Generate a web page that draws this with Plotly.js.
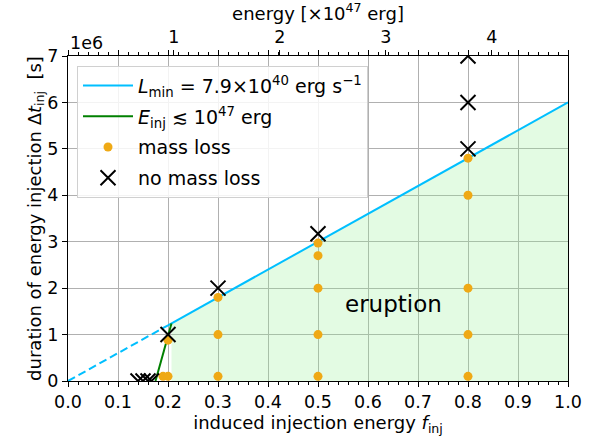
<!DOCTYPE html>
<html><head><meta charset="utf-8">
<script src="https://cdn.plot.ly/plotly-3.0.1.min.js"></script>
<style>html,body{margin:0;padding:0;background:#fff}#plot{width:599px;height:440px}</style>
</head><body><div id="plot"></div>
<script>
// Values (durations in units of 1e6 s)
const lminDashedX = [0.0, 0.2];
const lminDashedY = [0.0, 1.2];
const lminSolidX = [0.2, 1.0];
const lminSolidY = [1.2, 6.0];
const einjX = [0.175, 0.207];
const einjY = [0.0, 1.24];
const eruptionX = [0.207, 0.207, 1.0, 1.0];
const eruptionY = [0.0, 1.24, 6.0, 0.0];
const massLossX = [0.19, 0.2, 0.2, 0.3, 0.3, 0.3, 0.5, 0.5, 0.5, 0.5, 0.5, 0.8, 0.8, 0.8, 0.8, 0.8];
const massLossY = [0.1, 0.1, 0.88, 0.1, 1.0, 1.8, 0.1, 1.0, 2.0, 2.7, 2.97, 0.1, 1.0, 2.0, 4.0, 4.8];
const noMassLossX = [0.14, 0.15, 0.16, 0.167, 0.2, 0.3, 0.5, 0.8, 0.8, 0.8];
const noMassLossY = [0.0, 0.0, 0.0, 0.0, 1.0, 2.0, 3.17, 5.0, 6.0, 7.0];
const xTicks = [0, 0.1, 0.2, 0.3, 0.4, 0.5, 0.6, 0.7, 0.8, 0.9, 1.0];
const yTicks = [0, 1, 2, 3, 4, 5, 6, 7];
const energyTicks = [1, 2, 3, 4];
const energyMax = 4.72;

const F = 'DejaVu Sans, sans-serif';
const cyan = '#00bfff';
const traces = [
  {x: eruptionX, y: eruptionY, type: 'scatter', mode: 'lines', fill: 'toself',
   fillcolor: 'rgba(144,238,144,0.25)', line: {width: 0}, showlegend: false, hoverinfo: 'skip'},
  {x: lminDashedX, y: lminDashedY, type: 'scatter', mode: 'lines',
   line: {color: cyan, width: 2, dash: '8px,4px'}, showlegend: false},
  {x: lminSolidX, y: lminSolidY, type: 'scatter', mode: 'lines', legendgroup: 'a',
   line: {color: cyan, width: 2}, name: '<i>L</i><sub>min</sub> = 7.9×10<sup>40</sup> erg s<sup>−1</sup>'},
  {x: einjX, y: einjY, type: 'scatter', mode: 'lines', legendgroup: 'b',
   line: {color: 'green', width: 2}, name: '<i>E</i><sub>inj</sub> ≲ 10<sup>47</sup> erg'},
  {x: massLossX, y: massLossY, type: 'scatter', mode: 'markers', legendgroup: 'c',
   marker: {color: '#efa915', size: 9}, name: 'mass loss'},
  {x: noMassLossX, y: noMassLossY, type: 'scatter', mode: 'markers', legendgroup: 'd',
   marker: {symbol: 'x-thin-open', size: 15, line: {color: 'black', width: 2}, color: 'black'},
   name: 'no mass loss'},
  {x: [0], y: [0], xaxis: 'x2', type: 'scatter', mode: 'markers', marker: {opacity: 0}, showlegend: false, hoverinfo: 'skip'}
];

const layout = {
  width: 599, height: 440,
  margin: {l: 68, r: 31, t: 56, b: 59},
  paper_bgcolor: 'white', plot_bgcolor: 'white',
  font: {family: F, size: 17.5, color: 'black'},
  showlegend: true,
  legend: {x: 0.018, y: 0.97, xanchor: 'left', yanchor: 'top', bgcolor: 'rgba(255,255,255,0.85)',
    bordercolor: '#d0d0d0', borderwidth: 1, font: {family: F, size: 19}, tracegroupgap: 3,
    itemwidth: 50},
  xaxis: {range: [0, 1], tickvals: xTicks, ticktext: xTicks.map(v => v.toFixed(1)),
    showgrid: true, gridcolor: '#b0b0b0', gridwidth: 1,
    ticks: 'outside', ticklen: 5, tickcolor: 'black', showline: true, linecolor: 'black', linewidth: 1,
    mirror: 'ticks', zeroline: false,
    minor: {dtick: 0.02, ticks: 'outside', ticklen: 3, tickcolor: 'black', showgrid: false},
    title: {text: 'induced injection energy <i>f</i><sub>inj</sub>', font: {size: 18}, standoff: 4},
    tickfont: {size: 17.5}},
  xaxis2: {overlaying: 'x', side: 'top', range: [0, energyMax], tickvals: energyTicks,
    ticks: 'outside', ticklen: 5, tickcolor: 'black', showgrid: false, zeroline: false,
    title: {text: 'energy [×10<sup>47</sup> erg]', font: {size: 18}, standoff: 2}, tickfont: {size: 17.5}},
  yaxis: {range: [0, 7], tickvals: yTicks, showgrid: true, gridcolor: '#b0b0b0', gridwidth: 1,
    ticks: 'outside', ticklen: 5, tickcolor: 'black', showline: true, linecolor: 'black', linewidth: 1,
    mirror: true, zeroline: false,
    title: {text: 'duration of energy injection Δ<i>t</i><sub>inj</sub>  [s]', font: {size: 18}, standoff: 1},
    tickfont: {size: 17.5}},
  annotations: [
    {text: '1e6', xref: 'paper', yref: 'paper', x: 0, y: 1, xanchor: 'left', yanchor: 'bottom',
     yshift: 1, showarrow: false, font: {size: 17.5}},
    {text: 'eruption', xref: 'x', yref: 'y', x: 0.65, y: 1.66, showarrow: false, font: {size: 23}}
  ]
};
Plotly.newPlot('plot', traces, layout, {displayModeBar: false});
</script></body></html>
